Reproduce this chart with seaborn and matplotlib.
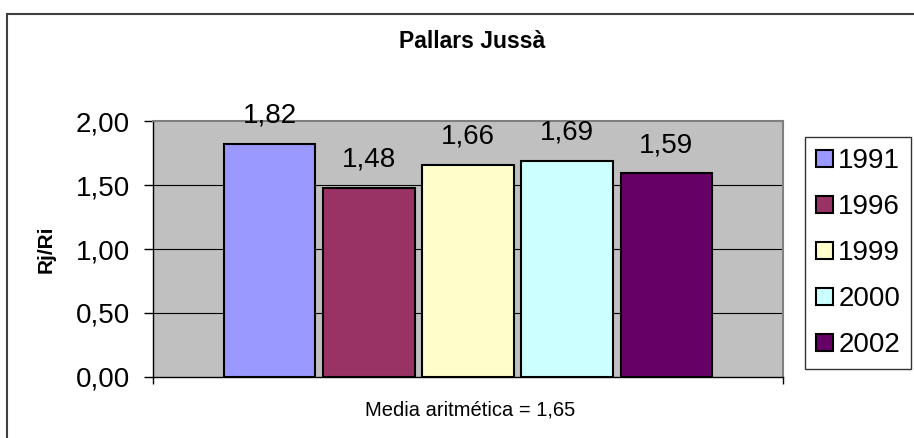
import pandas as pd
import numpy as np
import matplotlib.pyplot as plt
import matplotlib.patches as mpatches
from matplotlib.ticker import FuncFormatter
import seaborn as sns

sns.set_theme(style="white")
plt.rcParams['font.family'] = ['Liberation Sans', 'DejaVu Sans']
plt.rcParams['text.color'] = 'black'
plt.rcParams['axes.labelcolor'] = 'black'
plt.rcParams['xtick.color'] = 'black'
plt.rcParams['ytick.color'] = 'black'

# data
years = ['1991', '1996', '1999', '2000', '2002']
values = [1.82, 1.48, 1.66, 1.69, 1.59]
colors = ['#9999FF', '#993366', '#FFFFCC', '#CCFFFF', '#660066']
title = 'Pallars Jussà'
ylabel = 'Rj/Ri'
note = 'Media aritmética = 1,65'

df = pd.DataFrame({'grupo': ['Pallars Jussà'] * len(years), 'año': years, 'valor': values})

fig = plt.figure(figsize=(9.14, 4.38), dpi=100)
ax = fig.add_axes([153 / 914, 1 - 377 / 438, 630 / 914, 256 / 438])
ax.set_facecolor('#C0C0C0')

sns.barplot(data=df, x='grupo', y='valor', hue='año', palette=colors,
            width=0.786, gap=0.08, edgecolor='black', linewidth=1.5,
            saturation=1, ax=ax)

ax.set_ylim(0, 2)
ax.set_xlim(-0.5, 0.5)
ax.set_yticks(np.arange(0, 2.01, 0.5))
ax.yaxis.set_major_formatter(FuncFormatter(lambda v, p: f'{v:.2f}'.replace('.', ',')))
ax.tick_params(axis='y', direction='out', length=6.5, width=1, color='black',
               labelsize=20, pad=10, left=True)
ax.set_xticks([-0.5, 0.5])
ax.set_xticklabels(['', ''])
ax.tick_params(axis='x', direction='out', length=5, width=1, color='black', bottom=True)
for y in [0.5, 1.0, 1.5]:
    ax.axhline(y, color='black', lw=0.8, zorder=0.5)
ax.set_axisbelow(True)
for s in ['top', 'right']:
    ax.spines[s].set_color('#808080')
    ax.spines[s].set_linewidth(1.5)
for s in ['left', 'bottom']:
    ax.spines[s].set_color('black')
    ax.spines[s].set_linewidth(1)

for cont in ax.containers:
    ax.bar_label(cont, labels=[f'{v:.2f}'.replace('.', ',') for v in cont.datavalues],
                 padding=11, fontsize=20)

ax.set_xlabel('')
ax.set_ylabel('')

handles = [mpatches.Patch(facecolor=c, edgecolor='black', linewidth=1.5, label=y)
           for c, y in zip(colors, years)]
leg = ax.legend(handles=handles, loc='upper left', bbox_to_anchor=(805 / 914, 1 - 137 / 438),
                bbox_transform=fig.transFigure, fontsize=20, frameon=True, fancybox=False,
                edgecolor='black', handlelength=0.6, handleheight=0.6, handletextpad=0.2,
                labelspacing=0.72, borderpad=0.4, borderaxespad=0)
leg.get_frame().set_linewidth(1)

fig.text(472 / 914, 1 - 48 / 438, title, ha='center', va='baseline', fontsize=16.5, fontweight='bold')
fig.text(46 / 914, 1 - 249 / 438, ylabel, ha='center', va='center', rotation=90,
         fontsize=15, fontweight='bold')
fig.text(470 / 914, 1 - 415 / 438, note, ha='center', va='baseline', fontsize=14.5)

fig.patches.append(mpatches.Rectangle((7 / 914, -0.1), 1.2, 1 - 14 / 438 + 0.1,
                                      transform=fig.transFigure, fill=False,
                                      edgecolor='#404040', linewidth=1.5))

fig.savefig('out.png', dpi=100)
